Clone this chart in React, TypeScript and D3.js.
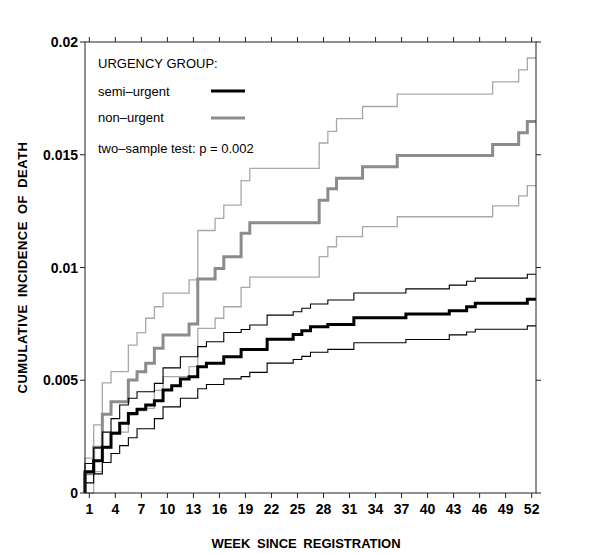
import * as d3 from "d3";
import React from "react";

// cumulative incidence, in thousandths, one value per week 1..52
const nuUpper = [1.55, 3.02, 4.88, 5.38, 5.38, 6.56, 7.11, 7.75, 8.26, 8.86, 8.86, 8.86, 9.45, 11.64, 11.64, 12.18, 12.77, 12.77, 13.85,
  14.4, 14.4, 14.4, 14.4, 14.4, 14.4, 14.4, 14.4, 15.52, 16.04, 16.6, 16.6, 16.6, 17.14, 17.14, 17.14, 17.14,
  17.69, 17.69, 17.69, 17.69, 17.69, 17.69, 17.69, 17.69, 17.69, 17.69, 17.69, 18.23, 18.23, 18.23, 18.76, 19.29];
const nuEst = [0.85, 2.03, 3.49, 4.05, 4.05, 5.01, 5.38, 5.75, 6.42, 7.01, 7.01, 7.01, 7.49, 9.49, 9.49, 9.96, 10.48, 10.48, 11.52,
  11.99, 11.99, 11.99, 11.99, 11.99, 11.99, 11.99, 11.99, 12.98, 13.49, 13.96, 13.96, 13.96, 14.47, 14.47, 14.47, 14.47,
  14.97, 14.97, 14.97, 14.97, 14.97, 14.97, 14.97, 14.97, 14.97, 14.97, 14.97, 15.46, 15.46, 15.46, 15.98, 16.47];
const nuLower = [0, 0.95, 2.0, 2.7, 2.7, 3.45, 3.65, 3.75, 4.55, 5.16, 5.16, 5.16, 5.6, 7.3, 7.3, 7.75, 8.26, 8.26, 9.12,
  9.57, 9.57, 9.57, 9.57, 9.57, 9.57, 9.57, 9.57, 10.48, 10.92, 11.37, 11.37, 11.37, 11.81, 11.81, 11.81, 11.81,
  12.25, 12.25, 12.25, 12.25, 12.25, 12.25, 12.25, 12.25, 12.25, 12.25, 12.25, 12.73, 12.73, 12.73, 13.18, 13.63];
const suEst = [0.94, 1.43, 2.03, 2.65, 3.09, 3.53, 3.71, 3.9, 4.09, 4.57, 4.76, 5.05, 5.15, 5.6, 5.75, 5.75, 6.04, 6.04,
  6.36, 6.36, 6.36, 6.82, 6.82, 6.82, 7.03, 7.2, 7.37, 7.37, 7.47, 7.47, 7.47, 7.77, 7.77, 7.77, 7.77, 7.77, 7.77,
  7.94, 7.94, 7.94, 7.94, 7.94, 8.08, 8.08, 8.26, 8.41, 8.41, 8.41, 8.41, 8.41, 8.41, 8.59];
const suUpper = [1.31, 2.0, 2.7, 3.3, 3.9, 4.2, 4.49, 4.49, 4.86, 5.55, 5.55, 6.04, 6.04, 6.49, 6.71, 6.71, 7.12, 7.12,
  7.25, 7.45, 7.45, 7.89, 7.89, 7.89, 8.04, 8.19, 8.38, 8.38, 8.56, 8.56, 8.56, 8.87, 8.87, 8.87, 8.87, 8.87, 8.87,
  9.05, 9.05, 9.05, 9.05, 9.05, 9.22, 9.22, 9.39, 9.53, 9.53, 9.53, 9.53, 9.53, 9.53, 9.7];
const suLower = [0.45, 0.85, 1.35, 1.75, 2.1, 2.45, 2.85, 2.85, 3.3, 3.82, 3.82, 4.2, 4.2, 4.62, 4.81, 4.81, 5.06, 5.06,
  5.16, 5.35, 5.35, 5.76, 5.76, 5.76, 5.92, 6.06, 6.24, 6.24, 6.37, 6.37, 6.37, 6.66, 6.66, 6.66, 6.66, 6.66, 6.66,
  6.81, 6.81, 6.81, 6.81, 6.81, 7.01, 7.01, 7.14, 7.26, 7.26, 7.26, 7.26, 7.26, 7.26, 7.41];

const xTickWeeks = [1, 4, 7, 10, 13, 16, 19, 22, 25, 28, 31, 34, 37, 40, 43, 46, 49, 52];
const yTickValues = [0, 0.005, 0.01, 0.015, 0.02];
const yTickLabels = ["0", "0.005", "0.01", "0.015", "0.02"];

const legendItems = [
  { label: "semi\u2013urgent", color: "#000000" },
  { label: "non\u2013urgent", color: "#8c8c8c" },
];
const testLabel = "two\u2013sample test: p = 0.002";

export default function App() {
  const left = 85;
  const right = 536;
  const top = 42;
  const bottom = 493;
  const font = "'Liberation Sans', Arial, Helvetica, sans-serif";

  const x = d3.scaleLinear().domain([0.5, 52.5]).range([left, right]);
  const y = d3.scaleLinear().domain([0, 0.02]).range([bottom, top]);

  const line = d3
    .line<[number, number]>()
    .x((d) => x(d[0]))
    .y((d) => y(d[1]))
    .curve(d3.curveStepAfter);

  const toPoints = (vals: number[]): [number, number][] => {
    const pts: [number, number][] = [[0.5, 0]];
    vals.forEach((v, i) => pts.push([i + 0.5, v / 1000]));
    pts.push([52.5, vals[vals.length - 1] / 1000]);
    return pts;
  };

  const series = [
    { vals: nuUpper, color: "#a8a8a8", width: 1.3 },
    { vals: nuLower, color: "#a8a8a8", width: 1.3 },
    { vals: nuEst, color: "#8c8c8c", width: 3 },
    { vals: suUpper, color: "#000000", width: 1.1 },
    { vals: suLower, color: "#000000", width: 1.1 },
    { vals: suEst, color: "#000000", width: 3 },
  ];

  return (
    <svg
      width={600}
      height={554}
      style={{ position: "absolute", left: 0, top: 0, background: "#fff" }}
    >
      <g>
        {series.map((s, i) => (
          <path
            key={i}
            d={line(toPoints(s.vals)) || ""}
            fill="none"
            stroke={s.color}
            strokeWidth={s.width}
          />
        ))}
      </g>

      {/* frame */}
      <g stroke="#222" strokeWidth="1" fill="none">
        <rect x={left} y={top} width={right - left} height={bottom - top} />
      </g>

      {/* ticks on all four sides */}
      <g stroke="#222" strokeWidth="1">
        {xTickWeeks.map((w) => (
          <g key={w}>
            <line x1={x(w)} x2={x(w)} y1={bottom} y2={bottom + 5} />
            <line x1={x(w)} x2={x(w)} y1={top} y2={top - 5} />
          </g>
        ))}
        {yTickValues.map((v) => (
          <g key={v}>
            <line x1={left} x2={left - 5} y1={y(v)} y2={y(v)} />
            <line x1={right} x2={right + 5} y1={y(v)} y2={y(v)} />
          </g>
        ))}
      </g>

      <g fontFamily={font} fontWeight="bold" fill="#000">
        {xTickWeeks.map((w) => (
          <text key={w} x={x(w)} y={514} textAnchor="middle" fontSize="14">
            {w}
          </text>
        ))}
        {yTickValues.map((v, i) => (
          <text key={v} x={78} y={y(v) + 5} textAnchor="end" fontSize="14">
            {yTickLabels[i]}
          </text>
        ))}
        <text x={306} y={548} textAnchor="middle" wordSpacing="3" fontSize="13">
          WEEK SINCE REGISTRATION
        </text>
        <text
          transform={`translate(27,${(top + bottom) / 2}) rotate(-90)`}
          textAnchor="middle"
          wordSpacing="3"
          letterSpacing="0.5"
          fontSize="13"
        >
          CUMULATIVE INCIDENCE OF DEATH
        </text>
      </g>

      {/* legend */}
      <g fontFamily={font} fontSize="13" fill="#000">
        <text x={98} y={68}>URGENCY GROUP:</text>
        {legendItems.map((item, i) => (
          <g key={item.label}>
            <text x={98} y={95.5 + i * 26.5}>
              {item.label}
            </text>
            <line
              x1={211}
              x2={245}
              y1={91 + i * 27}
              y2={91 + i * 27}
              stroke={item.color}
              strokeWidth={3}
            />
          </g>
        ))}
        <text x={98} y={153}>{testLabel}</text>
      </g>
    </svg>
  );
}
